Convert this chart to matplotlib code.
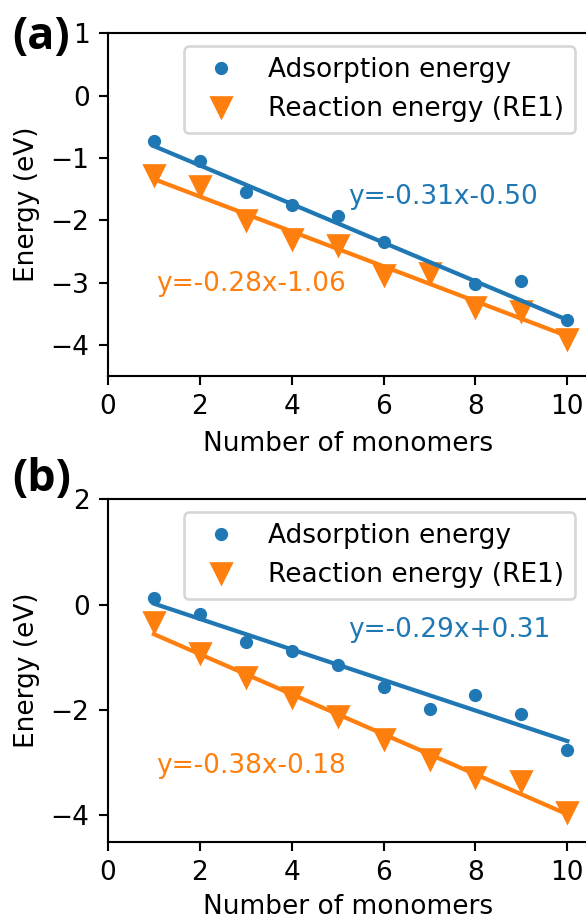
import numpy as np
import matplotlib
matplotlib.use('Agg')
import matplotlib.pyplot as plt

# 데이터
n_a_ads = [1, 2, 3, 4, 5, 6, 8, 9, 10]
ads_a = [-0.73, -1.05, -1.55, -1.75, -1.93, -2.35, -3.03, -2.98, -3.60]
n_a_re = [1, 2, 3, 4, 5, 6, 7, 8, 9, 10]
re_a = [-1.27, -1.45, -2.00, -2.30, -2.40, -2.88, -2.85, -3.40, -3.45, -3.90]

n_b = [1, 2, 3, 4, 5, 6, 7, 8, 9, 10]
ads_b = [0.12, -0.18, -0.70, -0.88, -1.15, -1.56, -1.98, -1.72, -2.08, -2.75]
re_b = [-0.33, -0.92, -1.38, -1.75, -2.12, -2.55, -2.93, -3.28, -3.35, -3.93]

# 선형 피팅 계수 (slope, intercept)
fit_a_ads = (-0.31, -0.50)
fit_a_re = (-0.28, -1.06)
fit_b_ads = (-0.29, 0.31)
fit_b_re = (-0.38, -0.18)

blue = '#1f77b4'
orange = '#ff7f0e'

fig = plt.figure(figsize=(586 / 190, 920 / 190), dpi=190)


def draw_panel(ax, n_ads, ads, n_re, re, fit_ads, fit_re, ylim, txt_ads, txt_re, lpad):
    ax.plot(n_ads, ads, 'o', color=blue, markersize=4.0, label='Adsorption energy')
    ax.plot(n_re, re, 'v', color=orange, markersize=7.3, label='Reaction energy (RE1)')

    xf = np.array([1, 10])
    ax.plot(xf, fit_ads[0] * xf + fit_ads[1], color=blue, lw=1.6)
    ax.plot(xf, fit_re[0] * xf + fit_re[1], color=orange, lw=1.6)

    ax.text(txt_ads[0], txt_ads[1], 'y=%.2fx%+.2f' % fit_ads, color=blue, va='baseline')
    ax.text(txt_re[0], txt_re[1], 'y=%.2fx%+.2f' % fit_re, color=orange, va='baseline')

    ax.set_xlim(0, 10.45)
    ax.set_ylim(*ylim)
    ax.set_xlabel('Number of monomers', labelpad=lpad)
    ax.set_ylabel('Energy (eV)')
    ax.legend(loc='upper right')


ax1 = fig.add_axes([108 / 586, 1 - 376 / 920, 480 / 586, 342.7 / 920])
draw_panel(ax1, n_a_ads, ads_a, n_a_re, re_a, fit_a_ads, fit_a_re,
           (-4.5, 1), (5.23, -1.74), (1.04, -3.13), 4.0)

ax2 = fig.add_axes([108 / 586, 1 - 841.7 / 920, 480 / 586, 342.4 / 920])
draw_panel(ax2, n_b, ads_b, n_b, re_b, fit_b_ads, fit_b_re,
           (-4.5, 2), (5.23, -0.61), (1.04, -3.2), 3.0)

fig.text(12 / 586, 1 - 49 / 920, '(a)', fontfamily='Open Sans', fontweight='bold',
         fontsize=17, va='baseline')
fig.text(12 / 586, 1 - 491 / 920, '(b)', fontfamily='Open Sans', fontweight='bold',
         fontsize=17, va='baseline')

fig.savefig('out.png', dpi=190)
